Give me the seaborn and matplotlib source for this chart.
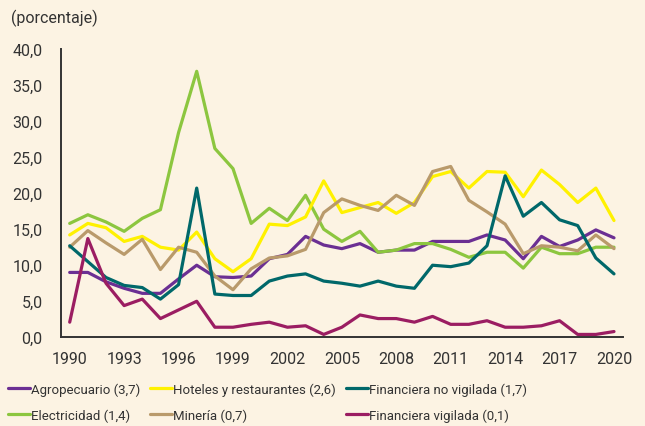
import numpy as np
import pandas as pd
import matplotlib
matplotlib.use("Agg")
import matplotlib.pyplot as plt
from matplotlib import font_manager
import seaborn as sns

years = list(range(1990, 2021))

agropecuario = [9.0, 9.0, 7.7, 6.8, 6.1, 6.1, 8.1, 10.0, 8.4, 8.3, 8.5,
                10.9, 11.5, 14.0, 12.8, 12.3, 13.0, 11.8, 12.1, 12.1, 13.3,
                13.3, 13.3, 14.2, 13.5, 10.9, 14.0, 12.6, 13.5, 14.9, 13.8]
hoteles = [14.2, 15.8, 15.2, 13.3, 14.0, 12.5, 12.1, 14.6, 10.9, 9.1, 10.9,
           15.7, 15.5, 16.7, 21.7, 17.3, 18.0, 18.7, 17.2, 18.7, 22.3,
           23.0, 20.7, 23.0, 22.9, 19.5, 23.2, 21.2, 18.7, 20.7, 16.2]
fin_no_vigilada = [12.7, 10.5, 8.3, 7.2, 6.9, 5.3, 7.3, 20.7, 6.0, 5.8, 5.8,
                   7.8, 8.5, 8.8, 7.8, 7.5, 7.1, 7.8, 7.1, 6.8, 10.0,
                   9.8, 10.3, 12.7, 22.4, 16.8, 18.7, 16.3, 15.5, 11.0, 8.8]
electricidad = [15.8, 17.0, 16.0, 14.7, 16.5, 17.7, 28.4, 36.9, 26.2, 23.4, 15.8,
                17.9, 16.2, 19.7, 15.0, 13.3, 14.7, 11.8, 12.1, 13.0, 13.0,
                12.2, 11.1, 11.8, 11.8, 9.6, 12.5, 11.6, 11.6, 12.5, 12.5]
mineria = [12.5, 14.8, 13.1, 11.5, 13.6, 9.4, 12.5, 11.8, 8.5, 6.6, 9.5,
           11.0, 11.3, 12.2, 17.3, 19.2, 18.3, 17.6, 19.7, 18.3, 23.0,
           23.7, 19.0, 17.4, 15.7, 11.6, 12.7, 12.5, 12.0, 14.2, 12.3]
fin_vigilada = [2.1, 13.7, 7.5, 4.4, 5.3, 2.6, 3.8, 5.0, 1.4, 1.4, 1.8,
                2.1, 1.4, 1.6, 0.4, 1.4, 3.1, 2.6, 2.6, 2.1, 2.9,
                1.8, 1.8, 2.3, 1.4, 1.4, 1.6, 2.3, 0.4, 0.4, 0.8]

# orden de la leyenda, por columnas
series = [
    ("Agropecuario (3,7)", agropecuario, "#6B2F93"),
    ("Electricidad (1,4)", electricidad, "#8CC63F"),
    ("Hoteles y restaurantes (2,6)", hoteles, "#FFF100"),
    ("Minería (0,7)", mineria, "#B99A6B"),
    ("Financiera no vigilada (1,7)", fin_no_vigilada, "#00686A"),
    ("Financiera vigilada (0,1)", fin_vigilada, "#9B1D62"),
]

df = pd.concat([pd.DataFrame({"year": years, "valor": vals, "serie": name})
                for name, vals, _ in series], ignore_index=True)
palette = {name: col for name, _, col in series}

bg = "#FCF3E3"
ink = "#333333"
sns.set_style("white")
installed = {f.name for f in font_manager.fontManager.ttflist}
font = "Liberation Sans Narrow" if "Liberation Sans Narrow" in installed else "Roboto"
plt.rcParams["font.family"] = [font, "DejaVu Sans"]

fig = plt.figure(figsize=(6.45, 4.27), dpi=100, facecolor=bg)
ax = fig.add_axes([0.094, 0.2077, 0.872, 0.6753], facecolor=bg)

sns.lineplot(data=df, x="year", y="valor", hue="serie", palette=palette,
             hue_order=[s[0] for s in series], linewidth=2.3, ax=ax, legend=False)

ax.set_xlim(1989.5, 2020.5)
ax.set_ylim(0, 40)
ax.set_xlabel("")
ax.set_ylabel("")

ax.set_xticks(np.arange(1989.5, 2021, 1))
ax.set_xticklabels([])
ax.set_xticks(range(1990, 2021, 3), minor=True)
ax.set_xticklabels([str(y) for y in range(1990, 2021, 3)], minor=True)
ax.tick_params(axis="x", which="major", direction="in", length=5, width=1.2, color=ink)
ax.tick_params(axis="x", which="minor", length=0, pad=10, labelsize=11.5, labelcolor=ink)

yt = np.arange(0, 41, 5)
ax.set_yticks(yt)
ax.set_yticklabels([f"{v:.1f}".replace(".", ",") for v in yt])
ax.tick_params(axis="y", direction="in", length=5, width=1.2, color=ink,
               pad=13, labelsize=11.5, labelcolor=ink)

for side in ["top", "right"]:
    ax.spines[side].set_visible(False)
for side in ["left", "bottom"]:
    ax.spines[side].set_color(ink)
    ax.spines[side].set_linewidth(1.4)

fig.text(0.017, 0.958, "(porcentaje)", fontsize=11.5, color=ink, va="center", ha="left")

# una leyenda por columna para fijar su posicion
col_x = [8, 150, 346]
for i, x0 in enumerate(col_x):
    pair = series[2 * i:2 * i + 2]
    handles = [plt.Line2D([], [], color=col, lw=2.3) for _, _, col in pair]
    fig.legend(handles, [p[0] for p in pair], loc="lower left",
               bbox_to_anchor=(x0 / 645, 0.0094), frameon=False, fontsize=9.5,
               handlelength=1.67, handletextpad=0.1, borderpad=0,
               borderaxespad=0, labelspacing=0.96, labelcolor=ink)

fig.savefig("out.png", dpi=100, facecolor=bg)
